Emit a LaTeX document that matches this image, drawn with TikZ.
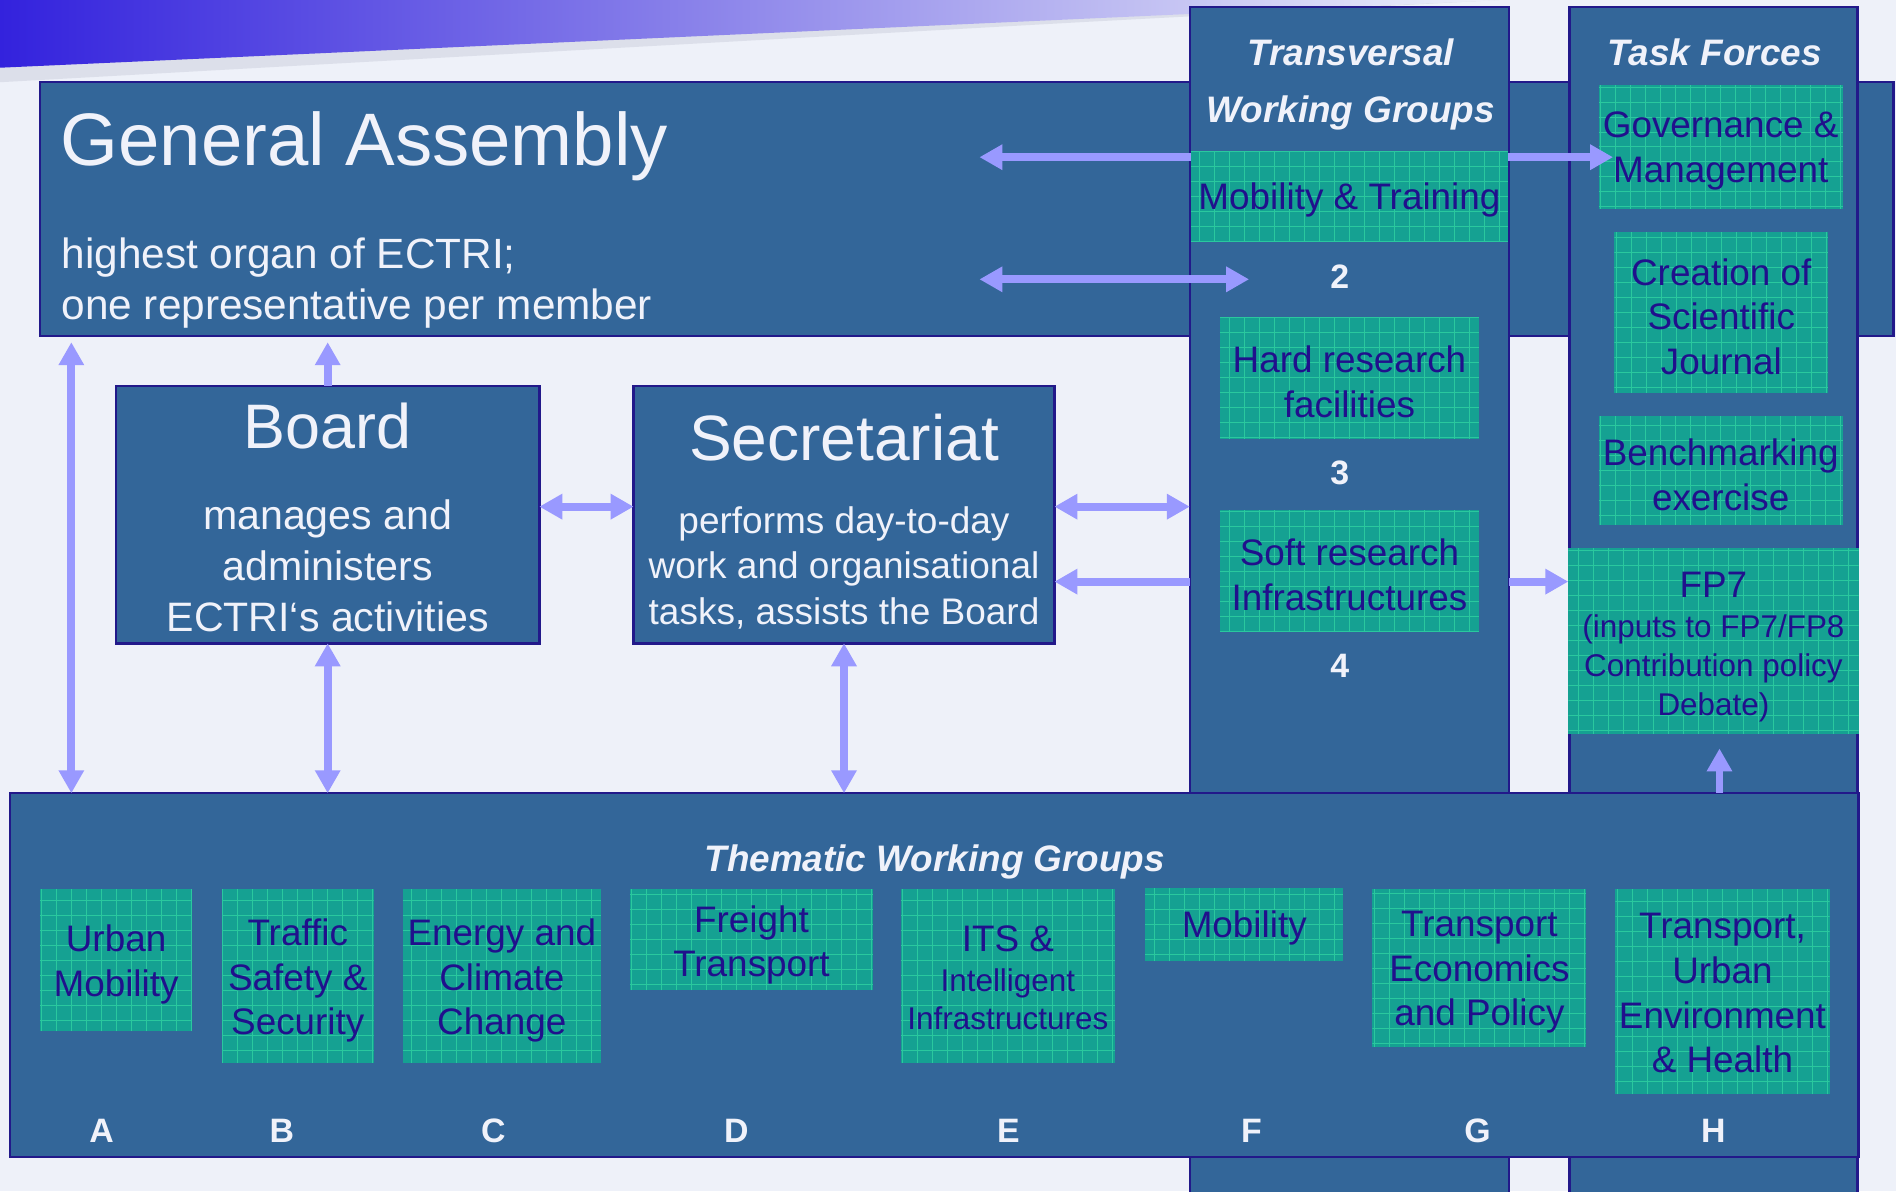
\documentclass[tikz,border=0pt]{standalone}
\usepackage{fontspec}
\setmainfont{Liberation Sans}
\usetikzlibrary{arrows.meta}
\definecolor{bgc}{HTML}{EEF1F9}
\definecolor{boxblue}{HTML}{336699}
\definecolor{bordc}{HTML}{22198A}
\definecolor{greenc}{HTML}{15A192}
\definecolor{gridc}{HTML}{2AC89E}
\definecolor{arrowc}{HTML}{9999FF}
\definecolor{navytxt}{HTML}{20108C}
\definecolor{whitetxt}{HTML}{F0F2FA}
\definecolor{bannerc}{HTML}{3322DD}
\definecolor{shadowc}{HTML}{DCDFEA}
\newcommand\fsz[2]{\fontsize{#1}{#2}\selectfont}
\newcommand\mybox[7]{\node[#6, anchor=north west, minimum width={(#4)-(#2)}, minimum height={(#5)-(#3)}] (#1) at (#2,#3) {#7};}
\newcommand\gbox[8]{\node[greenbox, anchor=north west, minimum width={(#4)-(#2)}, minimum height={(#5)-(#3)}] (#1) at (#2,#3) {};
  \node[gtext, #6] (#1-t) at ([yshift=-#7]#1.center) {#8};}
\tikzset{
  bluebox/.style={fill=boxblue, draw=bordc, line width=2pt, inner sep=0pt, outer sep=0pt},
  greenbox/.style={fill=greenc, inner sep=0pt, outer sep=0pt,
    path picture={\draw[gridc, line width=0.7pt, step=12.4pt] (path picture bounding box.south west) grid (path picture bounding box.north east);}},
  gtext/.style={text=navytxt, align=center, font=\fsz{30.5}{37}, inner sep=0pt, outer sep=0pt},
  wtext/.style={text=whitetxt, inner sep=0pt, outer sep=0pt},
  wtitle/.style={wtext, font=\bfseries\itshape\fsz{30.5}{47}, align=center},
  numlab/.style={wtext, font=\bfseries\fsz{28}{30}},
  sarr/.style={draw=arrowc, line width=6.5pt, -{Triangle[length=19pt, width=20pt]}},
  darr/.style={draw=arrowc, line width=6.5pt, {Triangle[length=19pt, width=20pt]}-{Triangle[length=19pt, width=20pt]}}
}
\begin{document}
\begin{tikzpicture}[x=1pt,y=-1pt]
\useasboundingbox (0,0) rectangle (1568,985);
\fill[bgc] (0,0) rectangle (1568,985);
% banner
\fill[shadowc] (0,55) -- (1240,0) -- (900,18) -- (0,68) -- cycle;
\shade[left color=bannerc, right color=bgc] (0,0) -- (1240,0) -- (0,56) -- cycle;
% main boxes
\mybox{ga}{33}{68}{1566}{278}{bluebox}{}
\mybox{board}{96}{319}{446}{532}{bluebox}{}
\mybox{sec}{524}{319}{872}{532}{bluebox}{}
\mybox{tcol}{984}{6}{1248}{995}{bluebox}{}
\mybox{fcol}{1298}{6}{1536}{995}{bluebox}{}
\mybox{tw}{8.5}{656}{1537}{957}{bluebox}{}
% texts of the blue boxes
\node[wtext, anchor=base west, font=\fsz{61.5}{70}] (gatitle) at (50,136.5) {General Assembly};
\node[wtext, anchor=north west, align=left, font=\fsz{35}{42}] (gasub) at (51,197) {highest organ of ECTRI;\\one representative per member};
\node[wtext, anchor=base, font=\fsz{52}{60}] (boardtitle) at (271,371) {Board};
\node[wtext, anchor=north, align=center, font=\fsz{34}{42}] (boardsub) at (271,413.5) {manages and\\administers\\ECTRI‘s activities};
\node[wtext, anchor=base, font=\fsz{53}{60}] (sectitle) at (698,380.5) {Secretariat};
\node[wtext, anchor=north, align=center, font=\fsz{30.6}{37.5}] (secsub) at (698,419) {performs day-to-day\\work and organisational\\tasks, assists the Board};
\node[wtitle, anchor=north] (ttitle) at (1117,32.2) {Transversal\\Working Groups};
\node[wtitle, anchor=base] (ftitle) at (1418,54) {Task Forces};
\node[wtitle, anchor=base] (thtitle) at (773,721) {Thematic Working Groups};
% transversal groups
\gbox{mt}{985}{125}{1247}{200}{}{3pt}{Mobility \& Training}
\gbox{hard}{1009}{262}{1223}{363}{}{3pt}{Hard research\\facilities}
\gbox{soft}{1009}{422}{1223}{523}{}{3pt}{Soft research\\Infrastructures}
\node[numlab, anchor=base] (n2) at (1108,239) {2};
\node[numlab, anchor=base] (n3) at (1108,401) {3};
\node[numlab, anchor=base] (n4) at (1108,560) {4};
% task forces
\gbox{gov}{1322}{70}{1524}{173}{}{3.5pt}{Governance \&\\Management}
\gbox{journal}{1335}{192}{1512}{325}{}{3.5pt}{Creation of\\Scientific\\Journal}
\gbox{bench}{1322}{344}{1524}{434}{}{3.5pt}{Benchmarking\\exercise}
\gbox{fp7}{1297}{453}{1537}{607}{font=\fsz{26}{32}}{5pt}{\fsz{30.5}{37}FP7\\[1pt](inputs to FP7/FP8\\Contribution policy\\Debate)}
% thematic groups
\gbox{urban}{33}{735}{159}{853}{}{3.5pt}{Urban\\Mobility}
\gbox{traffic}{183.5}{735}{309}{879}{}{4pt}{Traffic\\Safety \&\\Security}
\gbox{energy}{333}{735}{497}{879}{}{4pt}{Energy and\\Climate\\Change}
\gbox{freight}{521}{735}{722}{819}{}{4.5pt}{Freight\\Transport}
\gbox{its}{745}{735}{922}{879}{font=\fsz{26}{31}}{1.5pt}{\fsz{30.5}{37}ITS \&\\[2pt]Intelligent\\Infrastructures}
\gbox{mob}{947}{734}{1111}{795}{}{3pt}{Mobility}
\gbox{econ}{1135}{735}{1312}{866}{}{3.5pt}{Transport\\Economics\\and Policy}
\gbox{health}{1336}{735}{1513}{905}{}{1.5pt}{Transport,\\Urban\\Environment\\\& Health}
\node[numlab, anchor=base] (lA) at (84,945) {A};
\node[numlab, anchor=base] (lB) at (233,945) {B};
\node[numlab, anchor=base] (lC) at (408,945) {C};
\node[numlab, anchor=base] (lD) at (609,945) {D};
\node[numlab, anchor=base] (lE) at (834,945) {E};
\node[numlab, anchor=base] (lF) at (1035,945) {F};
\node[numlab, anchor=base] (lG) at (1222,945) {G};
\node[numlab, anchor=base] (lH) at (1417,945) {H};
% helper coordinates
\coordinate (y130) at (0,130);
\coordinate (y419) at (0,419);
\coordinate (y481) at (0,481);
\coordinate (gaL1) at (810,130);
\coordinate (gaL2) at (810,231);
\coordinate (t2) at (1033,231);
\coordinate (govtip) at (1334,130);
\coordinate (lvx) at (59,470);
\coordinate (fpx) at (1422,630);
% connectors
\draw[sarr] (mt.west |- y130) -- (gaL1);
\draw[darr] (gaL2) -- (t2);
\draw[sarr] (mt.east |- y130) -- (govtip);
\draw[sarr, shorten >=5pt] (board.north) -- (board.north |- ga.south);
\draw[darr, shorten <=5pt] (lvx |- ga.south) -- (lvx |- tw.north);
\draw[darr] (board.south) -- (board.south |- tw.north);
\draw[darr] (sec.south) -- (sec.south |- tw.north);
\draw[darr] (board.east |- y419) -- (sec.west |- y419);
\draw[darr] (sec.east |- y419) -- (tcol.west |- y419);
\draw[sarr] (tcol.west |- y481) -- (sec.east |- y481);
\draw[sarr] (tcol.east |- y481) -- (fp7.west |- y481);
\draw[sarr, shorten >=12pt] (fpx |- tw.north) -- (fpx |- fp7.south);
\end{tikzpicture}
\end{document}
